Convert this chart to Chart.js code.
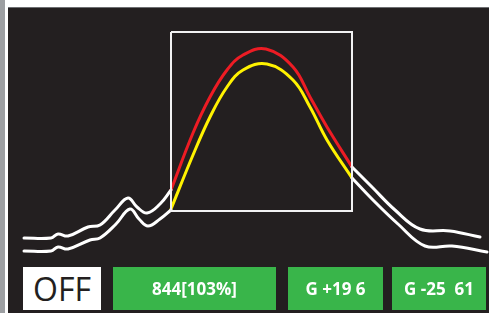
<!DOCTYPE html>
<html>
<head>
<meta charset="utf-8">
<script src="https://cdn.jsdelivr.net/npm/chart.js@4.4.0/dist/chart.umd.min.js"></script>
<style>
  html, body { margin: 0; padding: 0; background: #fff; }
  body { width: 489px; height: 313px; position: relative; overflow: hidden; }
  #stripe { position: absolute; left: 0; top: 0; width: 5px; height: 313px; background: #9d9fa2; }
  #panel { position: absolute; left: 8px; top: 7px; width: 481px; height: 306px; background: #231f20; border-top: 1px solid #6d6e71; box-sizing: border-box; }
  #chart { position: absolute; left: 0; top: 0; }
  .box { position: absolute; top: 267px; height: 43px; display: flex; align-items: center; justify-content: center;
         font-family: "Open Sans", sans-serif; white-space: pre; }
  .green { background: #39b54a; color: #fff; font-weight: 700; font-size: 17px; }
  #off { left: 23px; width: 78px; background: #fff; color: #231f20; font-size: 32px; font-weight: 400; }
</style>
</head>
<body>
<div id="stripe"></div>
<div id="panel"></div>
<canvas id="chart" width="489" height="313"></canvas>
<div class="box" id="off">OFF</div>
<div class="box green" style="left:113px;width:163px;">844[103%]</div>
<div class="box green" style="left:288px;width:95px;">G +19 6</div>
<div class="box green" style="left:392px;width:94px;">G -25  61</div>

<script>
// frequency position (x) and level (y)
const upperLeftX  = [24, 51, 58, 68, 88, 100, 115, 128, 137, 147, 160, 171];
const upperLeftY  = [75, 75, 79, 77, 86, 88, 103, 115, 106, 100, 109, 123];
const lowerLeftX  = [24, 51, 58, 68, 90, 100, 116, 130, 139, 148, 160, 171];
const lowerLeftY  = [62, 62, 66, 64, 73, 75, 89, 104, 94, 87, 94, 103];

const redX    = [171, 193, 210, 227, 243, 266, 293, 310, 327, 352];
const redY    = [123, 180, 216, 243, 258, 264, 246, 216, 186, 146];
const yellowX = [171, 193, 210, 227, 243, 267, 293, 310, 327, 352];
const yellowY = [104, 158, 196, 226, 243, 249, 233, 206, 173, 135];

const upperRightX = [352, 372, 395, 420, 450, 480];
const upperRightY = [146, 126, 103, 84, 82, 76];
const lowerRightX = [352, 372, 398, 425, 452, 487];
const lowerRightY = [135, 114, 89, 67, 67, 61];

// selection window
const windowX = [171, 352, 352, 171, 171];
const windowY = [281, 281, 102, 102, 281];

function pts(xs, ys) {
    return xs.map((x, i) => ({ x: x, y: ys[i] }));
}

function curve(xs, ys, color) {
    return {
        data: pts(xs, ys),
        borderColor: color,
        borderWidth: 3,
        pointRadius: 0,
        tension: 0.4,
        borderCapStyle: 'round',
        fill: false
    };
}

new Chart(document.getElementById('chart'), {
    type: 'line',
    data: {
        datasets: [
            {
                data: pts(windowX, windowY),
                borderColor: '#f1f1f2',
                borderWidth: 2,
                pointRadius: 0,
                tension: 0,
                fill: false
            },
            curve(upperLeftX, upperLeftY, '#ffffff'),
            curve(lowerLeftX, lowerLeftY, '#ffffff'),
            curve(upperRightX, upperRightY, '#ffffff'),
            curve(lowerRightX, lowerRightY, '#ffffff'),
            curve(redX, redY, '#ed1c24'),
            curve(yellowX, yellowY, '#fff200')
        ]
    },
    options: {
        responsive: false,
        animation: false,
        devicePixelRatio: 1,
        layout: { padding: 0 },
        plugins: {
            legend: { display: false },
            tooltip: { enabled: false }
        },
        scales: {
            x: { type: 'linear', min: 0, max: 489, display: false },
            y: { type: 'linear', min: 0, max: 313, display: false }
        }
    }
});
</script>
</body>
</html>
